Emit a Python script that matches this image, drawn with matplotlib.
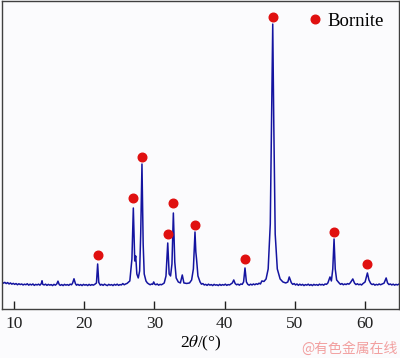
import matplotlib
matplotlib.use("Agg")
import matplotlib.pyplot as plt
from matplotlib.lines import Line2D

plt.rcParams["font.family"] = "serif"
plt.rcParams["font.serif"] = ["Liberation Serif", "DejaVu Serif"]
plt.rcParams["mathtext.fontset"] = "stix"

# XRD trace (2theta in degrees, intensity in a.u.)
TWO_THETA = [
    8.3, 8.5, 8.7, 8.9, 9.1, 9.3, 9.5, 9.7, 9.9, 10.1, 10.3, 10.5, 10.7, 10.9, 11.1, 11.3, 11.5, 11.7, 11.9, 12.1,
    12.3, 12.5, 12.7, 12.9, 13.1, 13.3, 13.5, 13.7, 13.9, 14.0, 14.1, 14.3, 14.5, 14.7, 14.9, 15.1, 15.3, 15.5, 15.7, 15.9,
    16.1, 16.27, 16.45, 16.6, 16.8, 17.0, 17.2, 17.4, 17.6, 17.8, 18.0, 18.2, 18.35, 18.55, 18.75, 18.9, 19.1, 19.3, 19.5, 19.7,
    19.9, 20.1, 20.3, 20.5, 20.7, 20.9, 21.1, 21.3, 21.5, 21.75, 21.92, 22.08, 22.3, 22.5, 22.7, 22.9, 23.1, 23.3, 23.5, 23.7,
    23.9, 24.1, 24.3, 24.5, 24.7, 24.9, 25.1, 25.3, 25.5, 25.7, 25.9, 26.1, 26.5, 26.8, 27.0, 27.2, 27.34, 27.5, 27.7, 27.9,
    28.05, 28.23, 28.4, 28.55, 28.8, 29.0, 29.2, 29.4, 29.6, 29.75, 29.9, 30.05, 30.2, 30.4, 30.6, 30.8, 31.0, 31.2, 31.4, 31.65,
    31.9, 32.1, 32.3, 32.5, 32.7, 32.9, 33.1, 33.4, 33.7, 33.97, 34.2, 34.6, 35.0, 35.3, 35.55, 35.78, 35.9, 36.0, 36.2, 36.5,
    36.7, 36.9, 37.1, 37.3, 37.5, 37.7, 37.9, 38.1, 38.3, 38.5, 38.7, 38.9, 39.1, 39.3, 39.5, 39.7, 39.9, 40.1, 40.3, 40.5,
    40.7, 40.9, 41.1, 41.3, 41.5, 41.7, 41.9, 42.1, 42.3, 42.5, 42.7, 42.9, 43.1, 43.3, 43.5, 43.7, 43.9, 44.1, 44.3, 44.5,
    44.7, 44.9, 45.1, 45.3, 45.6, 45.9, 46.2, 46.5, 46.7, 46.85, 47.0, 47.2, 47.5, 47.9, 48.3, 48.7, 49.0, 49.2, 49.5, 49.7,
    49.9, 50.1, 50.3, 50.5, 50.7, 50.9, 51.1, 51.3, 51.5, 51.7, 51.9, 52.1, 52.3, 52.5, 52.7, 52.9, 53.1, 53.3, 53.5, 53.7,
    53.9, 54.1, 54.3, 54.5, 54.7, 55.0, 55.2, 55.4, 55.58, 55.75, 55.95, 56.3, 56.5, 56.7, 56.9, 57.1, 57.3, 57.5, 57.7, 57.9,
    58.25, 58.5, 58.7, 58.9, 59.1, 59.3, 59.5, 59.7, 60.0, 60.33, 60.55, 60.8, 61.0, 61.2, 61.4, 61.6, 61.8, 62.0, 62.2, 62.4,
    62.7, 63.0, 63.2, 63.4, 63.6, 63.8, 64.0, 64.2, 64.4, 64.6, 64.8,
]
INTENSITY = [
    120, 108, 116, 104, 114, 100, 110, 98, 106, 96, 104, 92, 102, 94, 100, 90, 98, 92, 102, 88,
    98, 90, 100, 86, 96, 90, 98, 88, 104, 132, 96, 90, 98, 86, 96, 88, 94, 84, 96, 88,
    100, 128, 94, 86, 94, 84, 96, 88, 94, 86, 98, 92, 108, 152, 104, 88, 96, 86, 94, 84,
    96, 88, 94, 84, 96, 86, 94, 88, 96, 110, 300, 115, 88, 96, 86, 98, 90, 84, 96, 88,
    94, 84, 96, 88, 98, 86, 94, 90, 104, 92, 100, 105, 130, 350, 860, 330, 380, 200, 160, 230,
    600, 1300, 500, 200, 130, 110, 100, 92, 100, 96, 120, 98, 92, 100, 88, 96, 92, 100, 110, 180,
    510, 200, 180, 300, 810, 320, 160, 120, 110, 190, 110, 105, 110, 140, 250, 620, 420, 350, 180, 120,
    98, 104, 90, 96, 86, 98, 88, 94, 84, 96, 88, 92, 84, 96, 86, 94, 88, 98, 86, 94,
    90, 100, 110, 140, 104, 92, 98, 88, 100, 96, 120, 260, 120, 96, 88, 98, 90, 100, 92, 102,
    96, 108, 100, 130, 125, 150, 250, 700, 1800, 2700, 1700, 600, 250, 150, 120, 110, 120, 170, 112, 96,
    104, 90, 100, 86, 98, 88, 96, 84, 94, 88, 98, 86, 94, 84, 96, 88, 94, 86, 98, 90,
    96, 88, 100, 96, 110, 170, 130, 250, 550, 250, 140, 110, 96, 104, 92, 100, 94, 104, 98, 112,
    150, 108, 94, 102, 92, 98, 90, 104, 120, 210, 140, 105, 94, 100, 88, 96, 90, 100, 92, 98,
    108, 160, 110, 94, 100, 90, 98, 88, 96, 90, 98,
]

# Bornite markers above the peaks
BORNITE_X = [21.92, 27.0, 28.23, 31.9, 32.7, 35.78, 42.9, 46.85, 55.58, 60.33]
BORNITE_Y = [390, 960, 1370, 600, 910, 690, 350, 2770, 620, 300]

XTICKS = [10, 20, 30, 40, 50, 60]

fig = plt.figure(figsize=(4.0, 3.58), dpi=100, facecolor="#fbfbfd")
ax = fig.add_axes([0.005, 0.137, 0.992, 0.86])
ax.set_facecolor("#fbfbfd")

ax.plot(TWO_THETA, INTENSITY, color="#1414a0", linewidth=1.1)
ax.plot(BORNITE_X, BORNITE_Y, "o", color="#e01010", markersize=6.2, linestyle="none")

ax.set_xlim(8.3, 64.8)
ax.set_ylim(-150, 2930)
ax.set_xticks(XTICKS)
ax.set_yticks([])
ax.tick_params(axis="x", direction="in", length=6, width=1, labelsize=12.5, pad=5, colors="#202020")
for s in ax.spines.values():
    s.set_color("#404040")
    s.set_linewidth(1.0)

ax.set_xlabel(r"2$\theta$/(°)", fontsize=12.5, labelpad=1)

handle = Line2D([], [], marker="o", color="#e01010", markersize=6.2, linestyle="none")
ax.legend([handle], ["Bornite"], loc="center left", bbox_to_anchor=(0.775, 0.935),
          frameon=False, fontsize=13.5, handlelength=0.6, handletextpad=0.35,
          borderpad=0, borderaxespad=0)

fig.text(0.995, 0.005, "@有色金属在线", ha="right", va="bottom", fontsize=10,
         color="#f2a0a0", family=["Noto Sans CJK SC", "DejaVu Sans"])

fig.savefig("out.png", dpi=100, facecolor=fig.get_facecolor())
